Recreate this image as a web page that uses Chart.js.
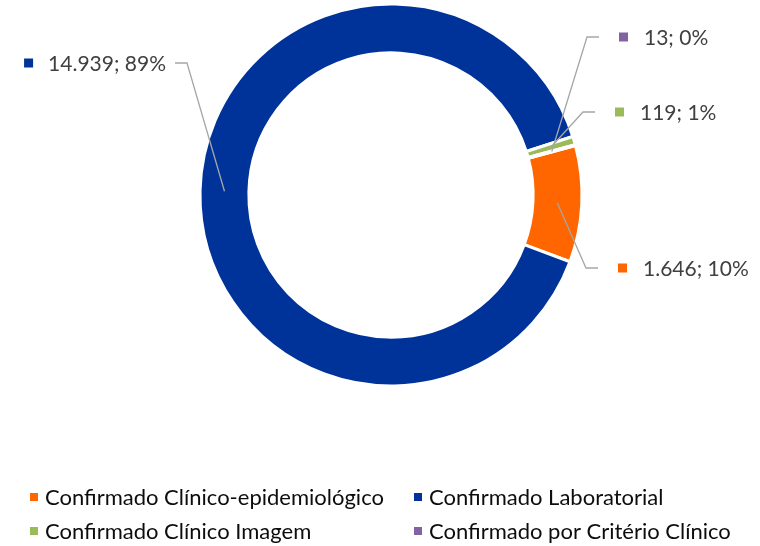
<!DOCTYPE html>
<html>
<head>
<meta charset="utf-8">
<script src="https://cdn.jsdelivr.net/npm/chart.js@4"></script>
<style>
  html, body { margin: 0; padding: 0; background: #fff; }
  #wrap { width: 760px; height: 546px; position: relative; }
</style>
</head>
<body>
<div id="wrap"><canvas id="grafico"></canvas></div>
<script>
// Dados do gráfico
const categorias = [
  "Confirmado Clínico-epidemiológico",
  "Confirmado Laboratorial",
  "Confirmado Clínico Imagem",
  "Confirmado por Critério Clínico",
];
const casos = [1646, 14939, 119, 13];
const cores = ["#FF6600", "#003399", "#9BBB59", "#8064A2"];

// Posição do cotovelo da linha de chamada de cada rótulo
const cotovelos = [
  { x: 586, y: 268, lado: "dir" },
  { x: 187, y: 63, lado: "esq" },
  { x: 583, y: 112, lado: "dir" },
  { x: 587, y: 37, lado: "dir" },
];

const fonteRotulo = "21px Lato";
const fonteLegenda = "22px Lato";

function formatarRotulo(valor, total) {
  const n = valor.toLocaleString("pt-BR");
  const pct = Math.round((valor / total) * 100);
  return n + "; " + pct + "%";
}

// Plugin para desenhar rótulos com linhas de chamada e a legenda
const rotulosPlugin = {
  id: "rotulos",
  afterDraw(chart) {
    const ctx = chart.ctx;
    const meta = chart.getDatasetMeta(0);
    const total = casos.reduce((a, b) => a + b, 0);
    ctx.save();

    meta.data.forEach((arc, i) => {
      const p = arc.getCenterPoint();
      const c = cotovelos[i];
      const fim = c.lado === "dir" ? c.x + 12 : c.x - 12;

      ctx.strokeStyle = "#A6A6A6";
      ctx.lineWidth = 1.3;
      ctx.beginPath();
      ctx.moveTo(p.x, p.y);
      ctx.lineTo(c.x, c.y);
      ctx.lineTo(fim, c.y);
      ctx.stroke();

      const texto = formatarRotulo(casos[i], total);
      ctx.font = fonteRotulo;
      ctx.fillStyle = "#404040";
      ctx.textBaseline = "middle";
      if (c.lado === "dir") {
        ctx.fillStyle = cores[i];
        ctx.fillRect(fim + 20, c.y - 4.5, 9, 9);
        ctx.fillStyle = "#404040";
        ctx.textAlign = "left";
        ctx.fillText(texto, fim + 45, c.y + 1);
      } else {
        const w = ctx.measureText(texto).width;
        const xTexto = fim - 9;
        ctx.textAlign = "right";
        ctx.fillText(texto, xTexto, c.y + 1);
        ctx.fillStyle = cores[i];
        ctx.fillRect(xTexto - w - 24, c.y - 4.5, 9, 9);
      }
    });

    // Legenda em duas colunas
    const colX = [30, 414];
    const linY = [497, 531];
    ctx.font = fonteLegenda;
    ctx.textAlign = "left";
    ctx.textBaseline = "middle";
    categorias.forEach((nome, i) => {
      const x = colX[i % 2];
      const y = linY[Math.floor(i / 2)];
      ctx.fillStyle = cores[i];
      ctx.fillRect(x, y - 4, 8, 8);
      ctx.fillStyle = "#0d0d0d";
      ctx.fillText(nome, x + 15, y + 1);
    });

    ctx.restore();
  },
};

const grafico = new Chart(document.getElementById("grafico"), {
  type: "doughnut",
  data: {
    labels: categorias,
    datasets: [
      {
        data: casos,
        backgroundColor: cores,
        borderColor: "#FFFFFF",
        borderWidth: 3,
      },
    ],
  },
  options: {
    responsive: true,
    maintainAspectRatio: false,
    animation: false,
    rotation: 75,
    radius: 191,
    cutout: 144,
    layout: { padding: { left: 22, right: 0, top: 0, bottom: 156 } },
    plugins: {
      legend: { display: false },
      tooltip: { enabled: false },
    },
  },
  plugins: [rotulosPlugin],
});
</script>
</body>
</html>
